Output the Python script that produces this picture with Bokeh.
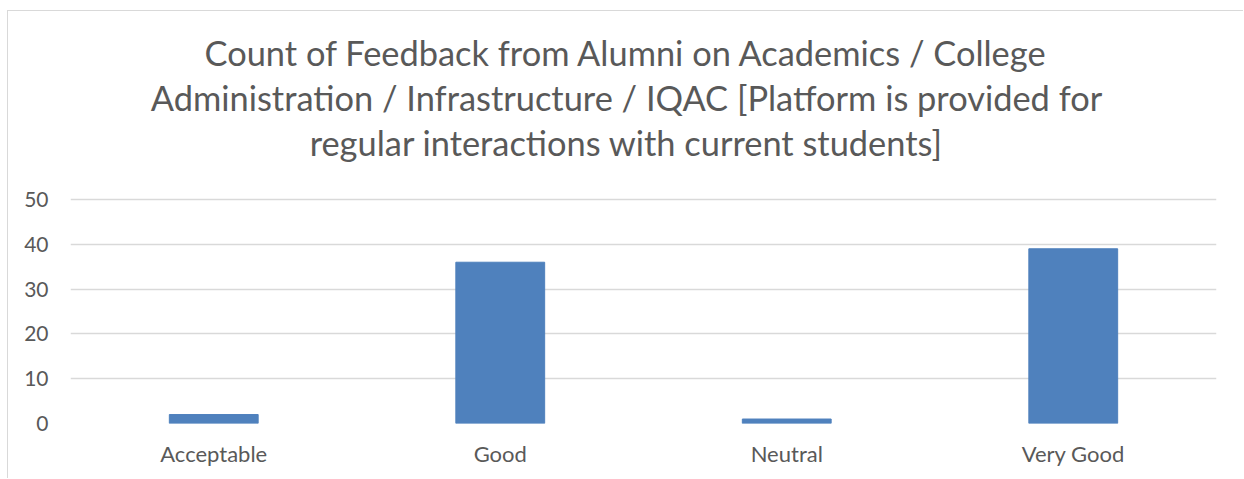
from bokeh.plotting import figure
from bokeh.embed import file_html
from bokeh.resources import INLINE
from bokeh.models import Range1d, FixedTicker, Label

categories = ["Acceptable", "Good", "Neutral", "Very Good"]
counts = [2, 36, 1, 39]
y_ticks = [0, 10, 20, 30, 40, 50]
title_lines = [
    "Count of Feedback from Alumni on Academics / College",
    "Administration / Infrastructure / IQAC [Platform is provided for",
    "regular interactions with current students]",
]

TEXT = "#595959"
GRID = "#D9D9D9"
BAR = "#4F81BD"
FONT = "Lato"

# frame spans the title area too; the value axis shows 0..50 in its lower 224 px
FRAME_H = 411
Y_END = 50 * FRAME_H / 224

p = figure(
    x_range=categories,
    y_range=Range1d(0, Y_END),
    width=1236,
    height=468,
    output_backend="svg",
    toolbar_location=None,
    min_border_left=62,
    min_border_right=28,
    min_border_top=1,
    min_border_bottom=56,
    title=None,
)
p.styles = {
    "margin-left": "7px",
    "margin-top": "10px",
    "border-left": "1px solid #D9D9D9",
    "border-top": "1px solid #D9D9D9",
}

p.vbar(x=categories, top=counts, width=0.31, fill_color=BAR, line_color=BAR)

# chart title: three centred lines (screen px from frame bottom-left)
title_x = 556
title_y = [371, 326, 281]
for line, ty in zip(title_lines, title_y):
    p.add_layout(Label(
        x=title_x, y=ty, x_units="screen", y_units="screen",
        text=line, text_align="center", text_baseline="alphabetic",
        text_font=FONT, text_font_size="34.4px", text_color=TEXT,
    ))

p.outline_line_color = None
p.background_fill_color = "white"
p.border_fill_color = "white"

p.xgrid.grid_line_color = None
p.ygrid.grid_line_color = GRID
p.ygrid.grid_line_width = 1.3
p.yaxis.ticker = FixedTicker(ticks=y_ticks)
p.ygrid.ticker = FixedTicker(ticks=y_ticks)

for ax in (p.xaxis[0], p.yaxis[0]):
    ax.axis_line_color = None
    ax.major_tick_line_color = None
    ax.minor_tick_line_color = None
    ax.major_tick_out = 0
    ax.major_tick_in = 0
    ax.minor_tick_out = 0
    ax.major_label_text_font = FONT
    ax.major_label_text_color = TEXT

p.xaxis.major_label_text_font_size = "22px"
p.yaxis.major_label_text_font_size = "21px"
p.yaxis.major_label_standoff = 22
p.xaxis.major_label_standoff = 16

open("out.html", "w").write(file_html(p, INLINE))
